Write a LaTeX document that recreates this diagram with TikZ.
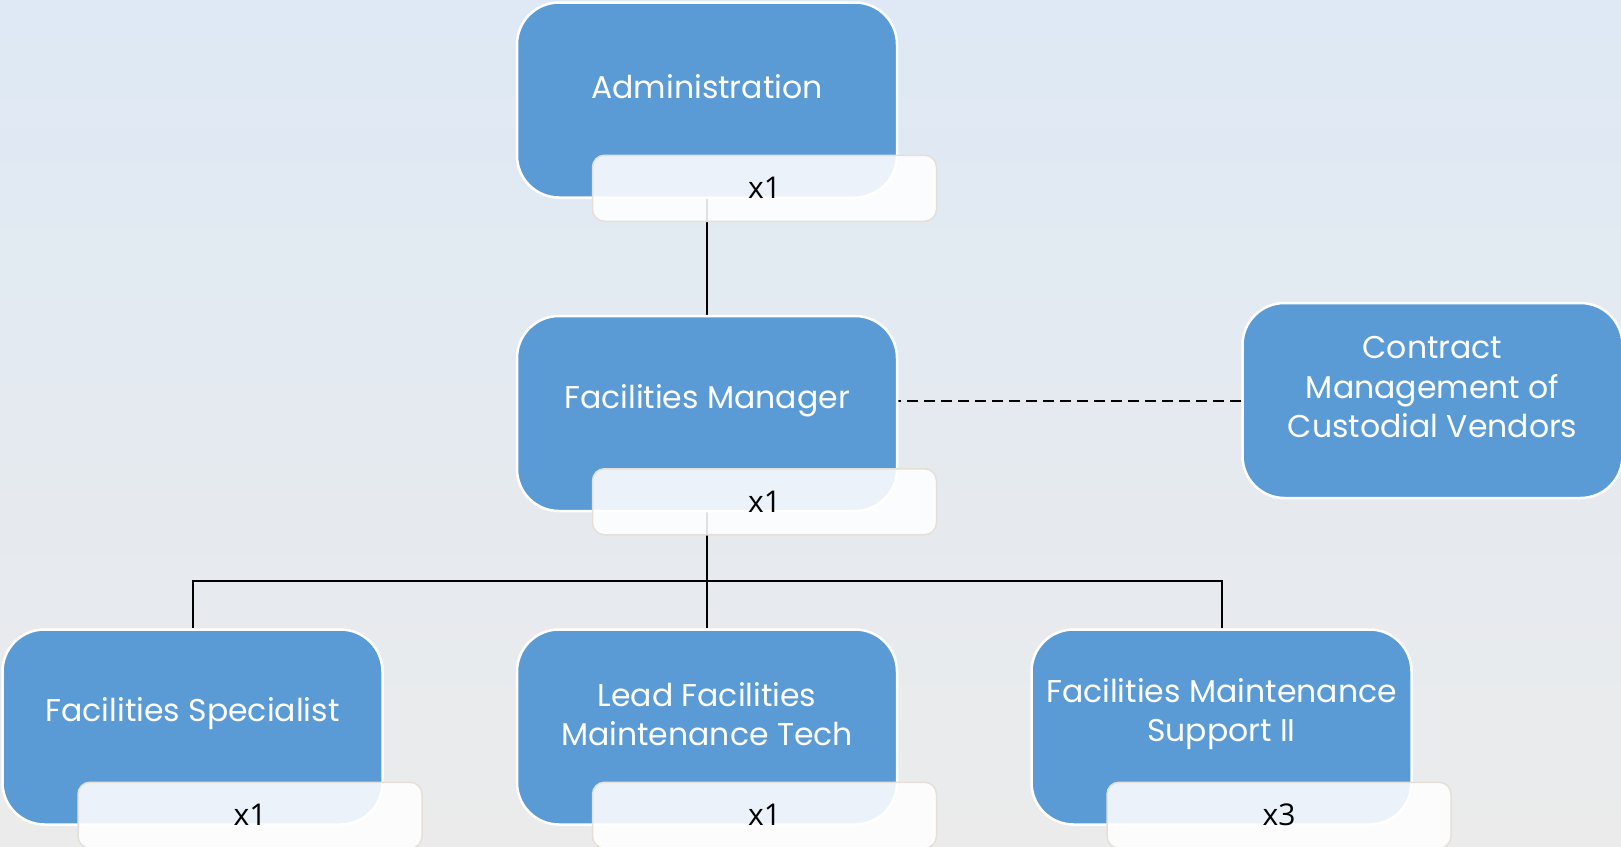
\documentclass[tikz,border=0pt]{standalone}
\usepackage{fontspec}
\setmainfont{Poppins}
\newfontfamily\countfont{Open Sans}
\usepackage{xcolor}
\usetikzlibrary{shapes,positioning,backgrounds}

\definecolor{roleblue}{HTML}{5B9BD5}
\definecolor{badgeedge}{HTML}{E4E0D8}
\definecolor{bgtop}{HTML}{DEE9F5}
\definecolor{bgbottom}{HTML}{EBEBEB}

\begin{document}
\begin{tikzpicture}[x=1pt, y=1pt, node distance=116pt and 132pt]
    % Stili
    \tikzstyle{role}=[rectangle, rounded corners=42pt, minimum width=380pt, minimum height=195pt, draw=white, line width=2.5pt, fill=roleblue]
    \tikzstyle{roletext}=[text=white, font=\fontsize{31.5}{39.5}\selectfont, align=center, yshift=13pt]
    \tikzstyle{headcount}=[rectangle, rounded corners=12pt, minimum width=344pt, minimum height=66pt, draw=badgeedge, line width=1.5pt, fill=white, fill opacity=0.88, text opacity=1, text=black, font=\countfont\fontsize{30}{34}\selectfont]
    \tikzstyle{link}=[line width=2pt, black]

    \useasboundingbox (0,0) rectangle (1621,-846);

    % Ruoli
    \node[role, label={[roletext]center:Administration}] (admin) at (707,-100) {};
    \node[role, below=of admin, label={[roletext]center:Facilities Manager}] (fm) {};
    \node[role, right=343pt of fm, yshift=13pt, label={[roletext]center:Contract\\Management of\\Custodial Vendors}] (contract) {};
    \node[role, below=of fm, label={[roletext]center:Lead Facilities\\Maintenance Tech}] (lead) {};
    \node[role, left=of lead, label={[roletext]center:Facilities Specialist}] (spec) {};
    \node[role, right=of lead, label={[roletext]center:Facilities Maintenance\\Support II}] (support) {};

    % Numero di posti
    \node[headcount] (admin-n) at ([xshift=57.5pt, yshift=10.5pt]admin.south) {x1};
    \node[headcount] (fm-n) at ([xshift=57.5pt, yshift=10.5pt]fm.south) {x1};
    \node[headcount] (spec-n) at ([xshift=57.5pt, yshift=10.5pt]spec.south) {x1};
    \node[headcount] (lead-n) at ([xshift=57.5pt, yshift=10.5pt]lead.south) {x1};
    \node[headcount] (support-n) at ([xshift=57.5pt, yshift=10.5pt]support.south) {x3};

    % Sfondo e collegamenti
    \begin{scope}[on background layer]
        \fill[top color=bgtop, bottom color=bgbottom] (0,0) rectangle (1621,-846);
        \draw[link] (admin.south) -- (fm.north);
        \draw[link] (fm.south) -- (lead.north);
        \draw[link] (spec.north) |- ([yshift=47pt]lead.north) -| (support.north);
        \draw[link, dash pattern=on 11pt off 6pt] (contract.west) -- (contract.west -| fm.east);
    \end{scope}
\end{tikzpicture}
\end{document}
